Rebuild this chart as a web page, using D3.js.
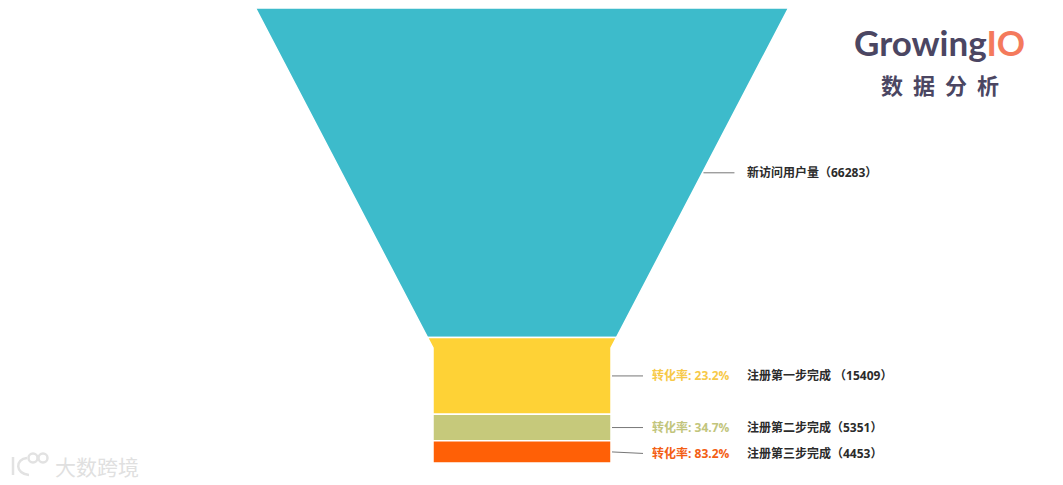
<!DOCTYPE html>
<html>
<head>
<meta charset="utf-8">
<script src="https://cdn.jsdelivr.net/npm/d3@7"></script>
<style>
  body { margin: 0; background: #fff; }
  svg { display: block; }
</style>
</head>
<body>
<svg></svg>
<script>
// funnel data
const stages = ["新访问用户量", "注册第一步完成", "注册第二步完成", "注册第三步完成"];
const counts = [66283, 15409, 5351, 4453];
const rates = ["", "23.2%", "34.7%", "83.2%"];
const colors = ["#3dbbcb", "#fed236", "#c6c97b", "#ff6006"];
const rateColors = ["", "#f7c948", "#c2c57c", "#f35e14"];

const w = 1063, h = 485;
const funnelTop = 8, funnelBottom = 463;   // funnel vertical extent
const cx = 522;                            // funnel center
const topWidth = 533, neckWidth = 178;
const neckY = 348;                         // where the taper stops

const svg = d3.select("svg").attr("width", w).attr("height", h);

// cumulative values -> y
const total = d3.sum(counts);
const yScale = d3.scaleLinear().domain([0, total]).range([funnelTop, funnelBottom]);
// y -> half width of the funnel
const halfW = d3.scaleLinear().domain([funnelTop, neckY]).range([topWidth / 2, neckWidth / 2]).clamp(true);

let acc = 0;
const slices = counts.map((v, i) => {
  const s = { i, value: v, y0: yScale(acc), y1: yScale(acc + v) };
  acc += v;
  return s;
});

const slicePath = d => {
  const ys = [d.y0];
  if (neckY > d.y0 && neckY < d.y1) ys.push(neckY);
  ys.push(d.y1);
  const right = ys.map(y => [cx + halfW(y), y]);
  const left = ys.slice().reverse().map(y => [cx - halfW(y), y]);
  return "M" + right.concat(left).map(p => p.join(",")).join("L") + "Z";
};

svg.append("g").selectAll("path")
  .data(slices)
  .enter()
  .append("path")
  .attr("d", slicePath)
  .attr("fill", d => colors[d.i])
  .attr("stroke", "#fff")
  .attr("stroke-width", 1.5);

// labels
const labelY = [0, 0, 0, 1.5]; // small nudge on the last one
const font = "'Open Sans', 'Noto Sans CJK SC', sans-serif";
const lab = svg.append("g").selectAll("g")
  .data(slices)
  .enter()
  .append("g");

lab.append("line")
  .attr("x1", d => cx + halfW((d.y0 + d.y1) / 2) + 1)
  .attr("y1", d => (d.y0 + d.y1) / 2)
  .attr("x2", d => cx + halfW((d.y0 + d.y1) / 2) + 32)
  .attr("y2", d => (d.y0 + d.y1) / 2 + labelY[d.i])
  .attr("stroke", "#777")
  .attr("stroke-width", 1);

lab.filter(d => rates[d.i] !== "")
  .append("text")
  .attr("x", d => cx + halfW((d.y0 + d.y1) / 2) + 41)
  .attr("y", d => (d.y0 + d.y1) / 2 + labelY[d.i])
  .attr("dy", "0.35em")
  .attr("fill", d => rateColors[d.i])
  .style("font-family", font)
  .style("font-size", "12px")
  .style("font-weight", "bold")
  .text(d => "转化率: " + rates[d.i]);

lab.append("text")
  .attr("x", 747)
  .attr("y", d => (d.y0 + d.y1) / 2 + labelY[d.i])
  .attr("dy", "0.35em")
  .attr("fill", "#2b2b2b")
  .style("font-family", font)
  .style("font-size", "12px")
  .style("font-weight", "bold")
  .text(d => stages[d.i] + (d.i === 1 ? " " : "") + "（" + counts[d.i] + "）");

// logo, top right
const logo = svg.append("g");
const brand = logo.append("text")
  .attr("x", 854).attr("y", 56)
  .style("font-family", "Lato, sans-serif")
  .style("font-size", "35px")
  .style("font-weight", "bold");
brand.append("tspan").attr("fill", "#4b4662").text("Growing");
brand.append("tspan").attr("fill", "#f47a5c").text("IO");
logo.append("text")
  .attr("x", 881).attr("y", 94)
  .attr("fill", "#4b4662")
  .style("font-family", "'Noto Sans CJK SC', sans-serif")
  .style("font-size", "22px")
  .style("font-weight", "bold")
  .style("letter-spacing", "10px")
  .text("数据分析");

// faint watermark, bottom left
const wm = svg.append("g").attr("fill", "none").attr("stroke", "#e2e2e2").attr("stroke-width", 2.5);
wm.append("path").attr("d", "M13,457 L13,475 M27,458 C15,459 15,474 29,475");
wm.append("circle").attr("cx", 33).attr("cy", 458).attr("r", 4.5);
wm.append("circle").attr("cx", 43).attr("cy", 458).attr("r", 4.5);
svg.append("text")
  .attr("x", 55).attr("y", 475)
  .attr("fill", "#e0e0e0")
  .style("font-family", "'Noto Sans CJK SC', sans-serif")
  .style("font-size", "21px")
  .text("大数跨境");
</script>
</body>
</html>
